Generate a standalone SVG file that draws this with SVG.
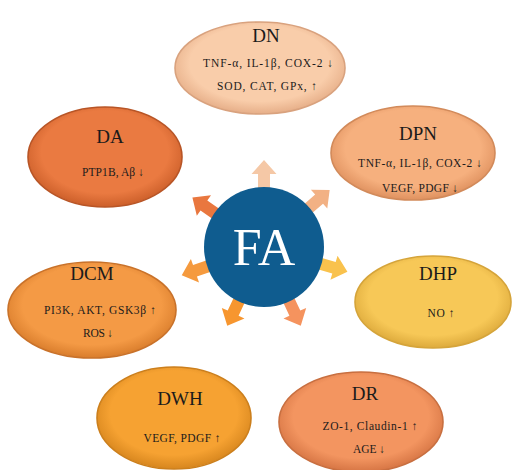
<svg xmlns="http://www.w3.org/2000/svg" width="512" height="470" viewBox="0 0 512 470">
<defs>
<style>
.t{font-family:"Liberation Serif","DejaVu Serif",serif;fill:#1b1b1b;text-anchor:middle}
.h{font-size:19px}
.s{font-size:11.5px}
.e{stroke-width:1.6}
</style>
<radialGradient id="gDN" cx="50%" cy="45%" r="55%"><stop offset="0.75" stop-color="#F9CDAA"/><stop offset="1" stop-color="#E6AE88"/></radialGradient>
<radialGradient id="gDPN" cx="50%" cy="45%" r="55%"><stop offset="0.75" stop-color="#F6B07E"/><stop offset="1" stop-color="#DF915F"/></radialGradient>
<radialGradient id="gDA" cx="50%" cy="45%" r="55%"><stop offset="0.75" stop-color="#EA7A41"/><stop offset="1" stop-color="#CC5F2A"/></radialGradient>
<radialGradient id="gDCM" cx="50%" cy="45%" r="55%"><stop offset="0.75" stop-color="#F49A45"/><stop offset="1" stop-color="#D97D2C"/></radialGradient>
<radialGradient id="gDHP" cx="50%" cy="45%" r="55%"><stop offset="0.75" stop-color="#F7C857"/><stop offset="1" stop-color="#DDAA3C"/></radialGradient>
<radialGradient id="gDWH" cx="50%" cy="45%" r="55%"><stop offset="0.75" stop-color="#F6A232"/><stop offset="1" stop-color="#D7861E"/></radialGradient>
<radialGradient id="gDR" cx="50%" cy="45%" r="55%"><stop offset="0.75" stop-color="#F39560"/><stop offset="1" stop-color="#D67544"/></radialGradient>
<path id="arr" d="M56,-6 L73,-6 L73,-12.5 L87,0 L73,12.5 L73,6 L56,6 Z"/>
</defs>
<rect width="512" height="470" fill="#ffffff"/>

<g id="connectors" transform="translate(264,247)">
<use href="#arr" fill="#F5C8A6" transform="rotate(-90)"/>
<use href="#arr" fill="#F2B184" transform="rotate(-41)"/>
<use href="#arr" fill="#E9773F" transform="rotate(-145.4)"/>
<use href="#arr" fill="#F9C24D" transform="rotate(16.5)"/>
<use href="#arr" fill="#F59A3E" transform="rotate(161)"/>
<use href="#arr" fill="#F7962F" transform="rotate(115)"/>
<use href="#arr" fill="#F5935E" transform="rotate(65)"/>
</g>

<g id="FA">
<circle cx="264" cy="247" r="60" fill="#0F5C8F"/>
<text x="264" y="265" style="font-family:'Liberation Serif','DejaVu Serif',serif;font-size:52px;fill:#ffffff;text-anchor:middle">FA</text>
</g>

<g id="DN">
<ellipse class="e" cx="260" cy="68" rx="85" ry="46" fill="url(#gDN)" stroke="#D9A27E"/>
<text class="t h" x="266" y="42">DN</text>
<text class="t s" x="268" y="67" textLength="130" lengthAdjust="spacing">TNF-α,  IL-1β, COX-2 ↓</text>
<text class="t s" x="267" y="90" textLength="100" lengthAdjust="spacing">SOD, CAT, GPx, ↑</text>
</g>

<g id="DPN">
<ellipse class="e" cx="413" cy="153" rx="82" ry="47" fill="url(#gDPN)" stroke="#D28A5A"/>
<text class="t h" x="418" y="140">DPN</text>
<text class="t s" x="420" y="167" textLength="124" lengthAdjust="spacing">TNF-α, IL-1β, COX-2 ↓</text>
<text class="t s" x="420" y="192" textLength="76" lengthAdjust="spacing">VEGF, PDGF ↓</text>
</g>

<g id="DA">
<ellipse class="e" cx="105" cy="157" rx="77" ry="50" fill="url(#gDA)" stroke="#B85526"/>
<text class="t h" x="110" y="143">DA</text>
<text class="t s" x="113" y="176" textLength="62" lengthAdjust="spacing">PTP1B, Aβ ↓</text>
</g>

<g id="DCM">
<ellipse class="e" cx="92" cy="310" rx="84" ry="48" fill="url(#gDCM)" stroke="#C9722A"/>
<text class="t h" x="92" y="280">DCM</text>
<text class="t s" x="100" y="314" textLength="112" lengthAdjust="spacing">PI3K, AKT, GSK3β ↑</text>
<text class="t s" x="98" y="337" textLength="30" lengthAdjust="spacing">ROS ↓</text>
</g>

<g id="DHP">
<ellipse class="e" cx="433" cy="302" rx="78" ry="46" fill="url(#gDHP)" stroke="#D5A43A"/>
<text class="t h" x="438" y="280">DHP</text>
<text class="t s" x="441" y="317" textLength="27" lengthAdjust="spacing">NO ↑</text>
</g>

<g id="DWH">
<ellipse class="e" cx="174" cy="418" rx="77" ry="51" fill="url(#gDWH)" stroke="#CC7F1C"/>
<text class="t h" x="180" y="405">DWH</text>
<text class="t s" x="182" y="442" textLength="77" lengthAdjust="spacing">VEGF, PDGF ↑</text>
</g>

<g id="DR">
<ellipse class="e" cx="361" cy="422" rx="82" ry="50" fill="url(#gDR)" stroke="#C86F40"/>
<text class="t h" x="365" y="400">DR</text>
<text class="t s" x="370" y="430" textLength="95" lengthAdjust="spacing">ZO-1, Claudin-1 ↑</text>
<text class="t s" x="369" y="453" textLength="32" lengthAdjust="spacing">AGE ↓</text>
</g>
</svg>
